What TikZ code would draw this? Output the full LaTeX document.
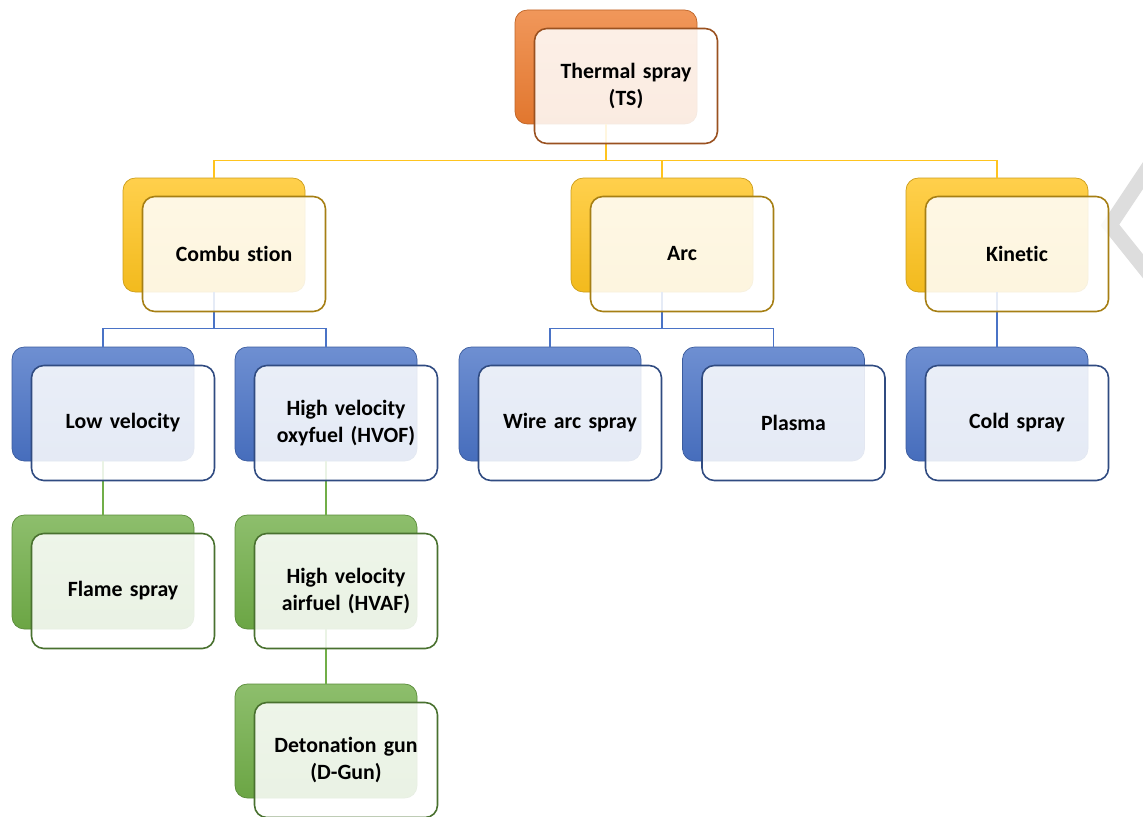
\documentclass[tikz,border=0pt]{standalone}
\usepackage{fontspec}
\setmainfont{Carlito}[Ligatures=NoCommon]
\usetikzlibrary{positioning}

\definecolor{tsorange}{HTML}{ED7D31}
\definecolor{tsyellow}{HTML}{FFC41F}
\definecolor{tsblue}{HTML}{4A73C6}
\definecolor{tsgreen}{HTML}{71AE48}
\definecolor{marca}{HTML}{DDDDDD}

\begin{document}
\begin{tikzpicture}[
    back/.style={
        rounded corners=7pt,
        minimum width=3.64cm,
        minimum height=2.28cm,
        inner sep=0pt,
        draw=#1!80!black,
        top color=#1!80!white,
        bottom color=#1!95!black
    },
    front/.style={
        rounded corners=7pt,
        minimum width=3.66cm,
        minimum height=2.3cm,
        inner sep=0pt,
        xshift=0.4cm,
        yshift=-0.38cm,
        draw=#1!65!black,
        line width=0.9pt,
        fill=white,
        fill opacity=0.86,
        text opacity=1,
        text width=3.3cm,
        align=center,
        font=\bfseries\fontsize{12.4}{15}\selectfont
    },
    link/.style={draw=#1, line width=0.9pt}
]
\useasboundingbox (0,0) rectangle (22.86,-16.34);

% Marca de agua
\draw[marca, line width=0.3cm] (23.0,-3.3) -- (22.2,-4.5) -- (23.0,-5.5);

% Nivel 0
\node[back=tsorange] (tsb) at (12.12,-1.34) {};

% Nivel 1
\node[back=tsyellow] (combb) at (4.28,-4.70) {};
\node[back=tsyellow] (arcb) at (13.24,-4.70) {};
\node[back=tsyellow] (kinb) at (19.94,-4.70) {};

% Nivel 2
\node[back=tsblue] (lowb) at (2.06,-8.08) {};
\node[back=tsblue] (hvofb) at (6.52,-8.08) {};
\node[back=tsblue] (wireb) at (11.00,-8.08) {};
\node[back=tsblue] (plasmab) at (15.47,-8.08) {};
\node[back=tsblue] (coldb) at (19.94,-8.08) {};

% Nivel 3
\node[back=tsgreen] (flameb) at (2.06,-11.44) {};
\node[back=tsgreen] (hvafb) at (6.52,-11.44) {};
\node[back=tsgreen] (dgunb) at (6.52,-14.82) {};

% Conectores
\draw[link=tsyellow] (tsb.south) -- ++(0,-0.72) coordinate (bus1);
\draw[link=tsyellow] (combb.north) |- (bus1) -| (kinb.north);
\draw[link=tsyellow] (arcb.north) -- (arcb.north |- bus1);

\draw[link=tsblue] (combb.south) -- ++(0,-0.72) coordinate (bus2);
\draw[link=tsblue] (lowb.north) |- (bus2) -| (hvofb.north);
\draw[link=tsblue] (arcb.south) -- ++(0,-0.72) coordinate (bus3);
\draw[link=tsblue] (wireb.north) |- (bus3) -| (plasmab.north);
\draw[link=tsblue] (kinb.south) -- (coldb.north);

\draw[link=tsgreen] (lowb.south) -- (flameb.north);
\draw[link=tsgreen] (hvofb.south) -- (hvafb.north);
\draw[link=tsgreen] (hvafb.south) -- (dgunb.north);

% Cajas
\node[front=tsorange] (ts) at (tsb) {Thermal spray\\(TS)};
\node[front=tsyellow] (comb) at (combb) {Combu stion};
\node[front=tsyellow] (arc) at (arcb) {Arc};
\node[front=tsyellow] (kin) at (kinb) {Kinetic};
\node[front=tsblue] (low) at (lowb) {Low velocity};
\node[front=tsblue] (hvof) at (hvofb) {High velocity\\oxyfuel (HVOF)};
\node[front=tsblue] (wire) at (wireb) {Wire arc spray};
\node[front=tsblue] (plasma) at (plasmab) {Plasma};
\node[front=tsblue] (cold) at (coldb) {Cold spray};
\node[front=tsgreen] (flame) at (flameb) {Flame spray};
\node[front=tsgreen] (hvaf) at (hvafb) {High velocity\\airfuel (HVAF)};
\node[front=tsgreen] (dgun) at (dgunb) {Detonation gun\\(D-Gun)};

\end{tikzpicture}
\end{document}
